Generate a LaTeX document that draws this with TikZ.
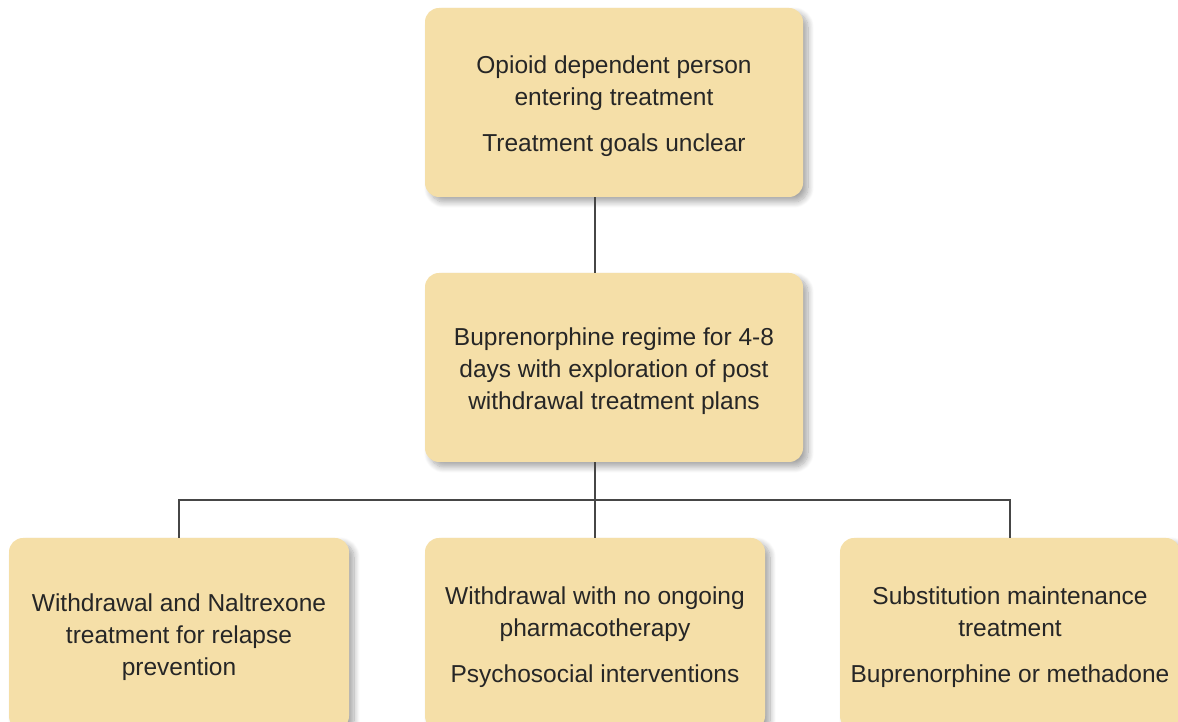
\documentclass[tikz,border=0pt]{standalone}
\usepackage{fontspec}
\setmainfont{Liberation Sans}
\usetikzlibrary{shadows.blur}
\definecolor{boxfill}{RGB}{245,223,168}
\definecolor{txt}{RGB}{38,38,38}
\definecolor{conn}{RGB}{70,70,70}
\newcommand\mytopstrut{\rule{0pt}{25pt}}
\tikzset{
  box/.style={draw=none, fill=boxfill, rounded corners=14pt, align=center, text=txt,
    font=\fontsize{24.5}{32}\selectfont, inner sep=0pt,
    blur shadow={shadow xshift=5pt, shadow yshift=-5pt, shadow blur radius=6pt, shadow blur steps=10, shadow opacity=35}},
  bigbox/.style={box, minimum width=378pt, minimum height=189pt},
  smallbox/.style={box, minimum width=340pt, minimum height=192pt},
  conn/.style={draw=conn, line width=1.2pt}
}
\begin{document}
\begin{tikzpicture}[x=1pt,y=1pt]
\useasboundingbox (0,0) rectangle (1178,722);
\clip (0,0) rectangle (1178,722);
\coordinate (hl) at (0,222);
\node[bigbox] (top) at (614,619.5) {\mytopstrut Opioid dependent person\\entering treatment\\[14pt]Treatment goals unclear};
\node[bigbox] (mid) at (614,354.5) {\mytopstrut Buprenorphine regime for 4-8\\days with exploration of post\\withdrawal treatment plans};
\node[smallbox] (bl) at (179,88) {\mytopstrut Withdrawal and Naltrexone\\treatment for relapse\\prevention};
\node[smallbox] (bm) at (595,88) {\mytopstrut Withdrawal with no ongoing\\pharmacotherapy\\[14pt]Psychosocial interventions};
\node[smallbox] (br) at (1010,88) {\mytopstrut Substitution maintenance\\treatment\\[14pt]Buprenorphine or methadone};
\draw[conn] (top.south -| bm.north) -- (mid.north -| bm.north);
\draw[conn] (mid.south -| bm.north) -- (hl -| bm.north);
\draw[conn] (bl.north) -- (hl -| bl.north) -- (hl -| br.north) -- (br.north);
\draw[conn] (hl -| bm.north) -- (bm.north);
\end{tikzpicture}
\end{document}
